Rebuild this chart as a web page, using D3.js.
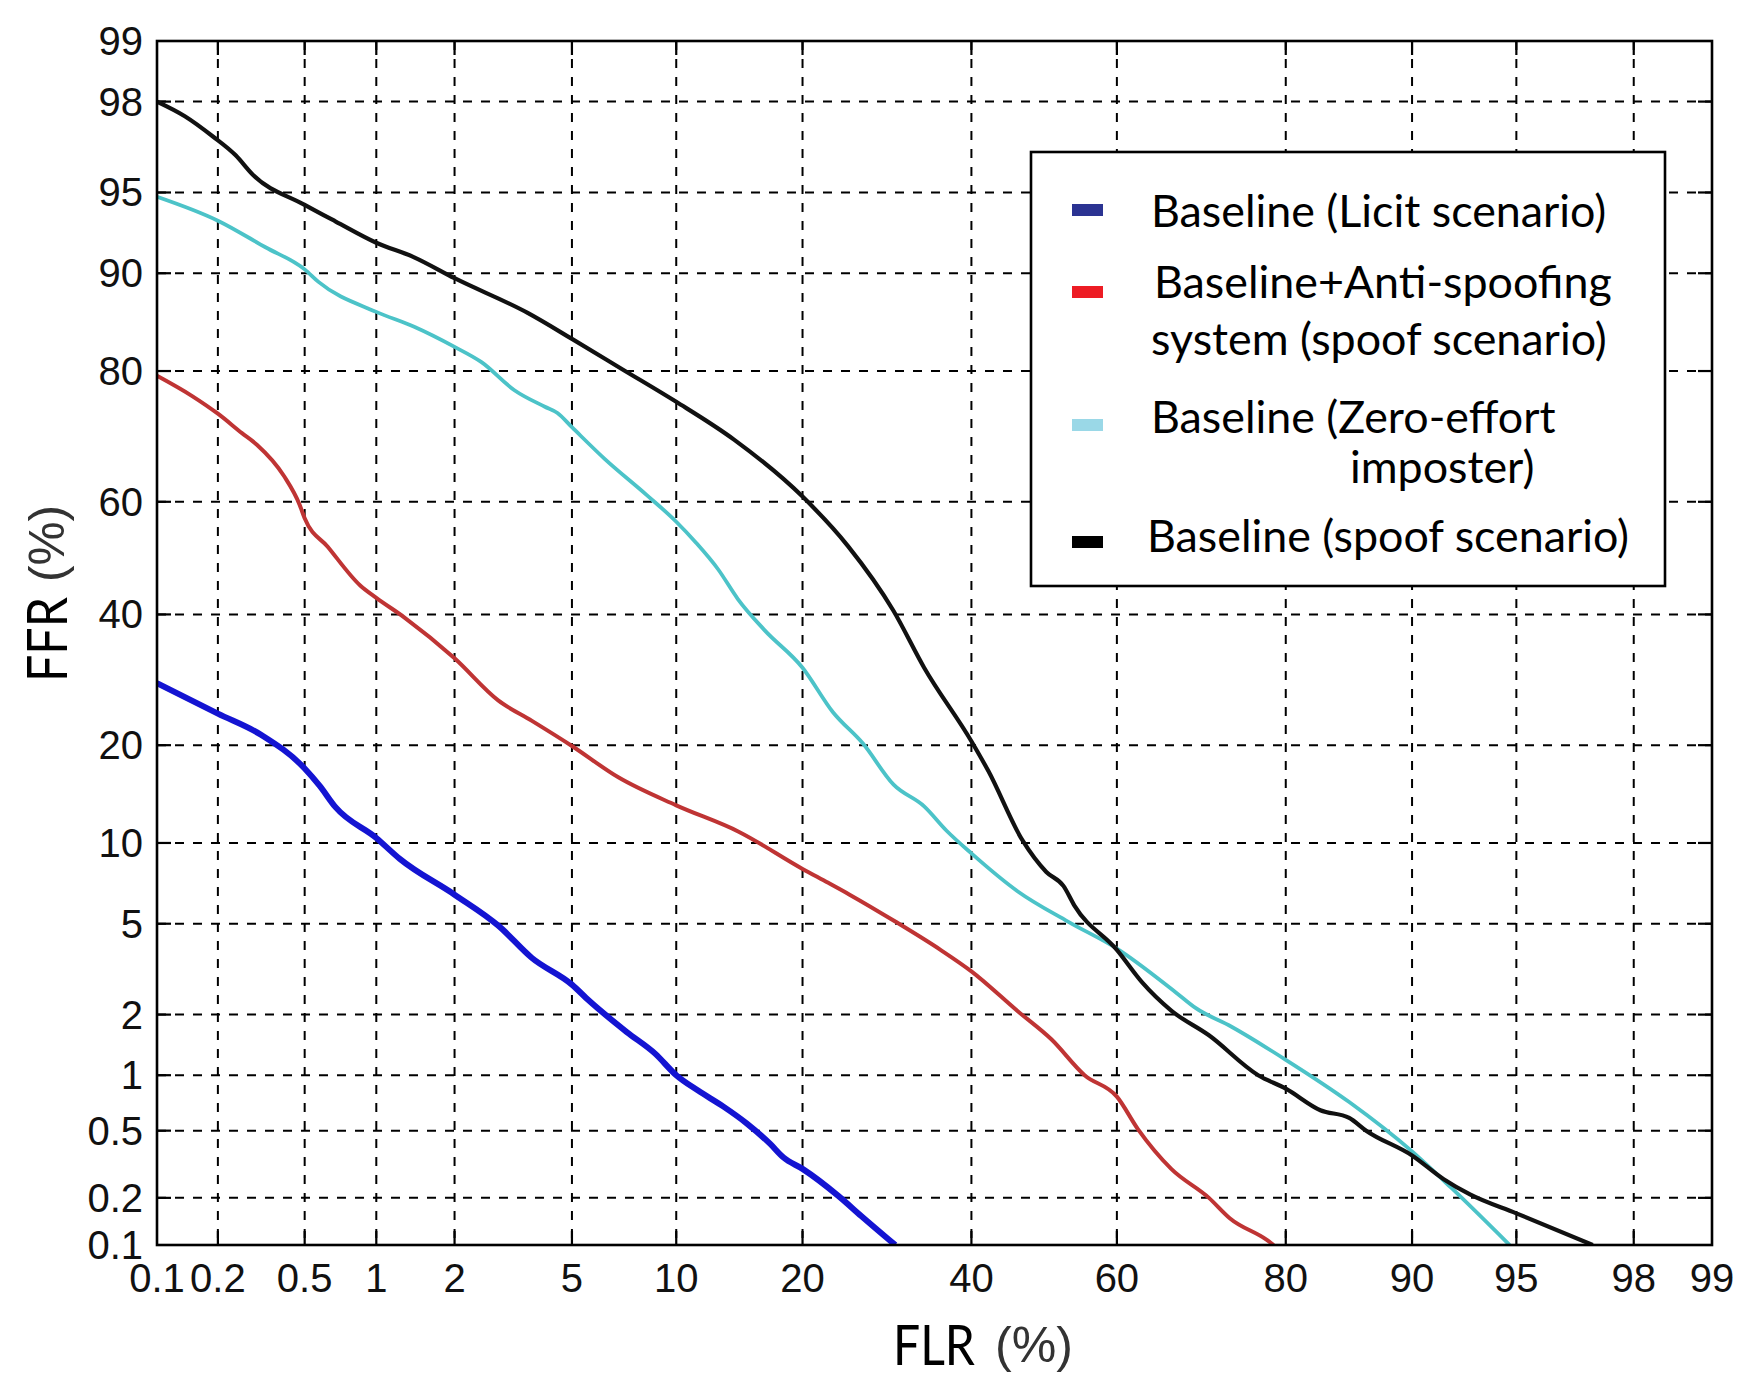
<!DOCTYPE html>
<html>
<head>
<meta charset="utf-8">
<script src="https://cdn.jsdelivr.net/npm/d3@7"></script>
<style>
  body { margin: 0; background: #fff; }
  svg { display: block; }
</style>
</head>
<body>
<svg id="chart" width="1753" height="1385"></svg>
<script>
// tick values, in percent, same for both axes
let flrTicks = [0.1, 0.2, 0.5, 1, 2, 5, 10, 20, 40, 60, 80, 90, 95, 98, 99];
let ffrTicks = [0.1, 0.2, 0.5, 1, 2, 5, 10, 20, 40, 60, 80, 90, 95, 98, 99];

// [FLR %, FFR %]
let licitCurve = [[0.1,28.7],[0.2,24.2],[0.32,21.3],[0.5,17.2],[0.58,15.3],[0.68,13.1],[1,10.4],[1.24,8.8],[2,6.5],
  [2.87,4.9],[3.72,3.6],[5,2.75],[5.65,2.32],[7.3,1.65],[8.77,1.29],[10,1.0],[11.4,0.83],[13.2,0.68],[15,0.55],
  [17,0.42],[18.2,0.35],[20,0.30],[23.7,0.205],[26.2,0.154],[30.2,0.1]];
let antiSpoofCurve = [[0.1,79.4],[0.15,76.7],[0.2,74.2],[0.26,71.3],[0.305,69.5],[0.405,64.4],[0.475,59.5],[0.5,57.1],
  [0.63,52],[0.86,45.1],[1,42.9],[1.29,39.5],[2,32.6],[2.86,26.1],[3.72,23.2],[5,19.9],[6.9,16.2],[10,13.3],[14.4,10.9],
  [20,8.1],[22.6,7.2],[24.9,6.5],[30.2,5.1],[35.9,3.9],[40,3.15],[46.3,2.08],[51,1.52],[55.6,1.0],[60,0.77],[62.8,0.51],
  [67.1,0.30],[71.7,0.2],[74.1,0.149],[78.1,0.108],[78.8,0.1]];
let zeroEffortCurve = [[0.1,94.8],[0.2,93.55],[0.334,91.9],[0.5,90.3],[0.574,89.3],[1,86.6],[1.41,85.1],[2,82.9],[2.5,81.1],
  [3.25,77.5],[4.1,75.2],[4.5,74.3],[5,72.2],[6.3,67.2],[8.3,61.2],[10,56.5],[11.25,52.8],[12.8,48],[14.3,42.7],[16.5,37.3],
  [20,31.1],[23.1,24.4],[26.4,20.2],[30,15.4],[33.8,13.2],[36.7,11],[40,9.2],[46.3,6.7],[53.3,5.1],[60,3.95],[67.6,2.55],
  [70.1,2.15],[74.3,1.75],[80,1.2],[85.6,0.72],[90,0.38],[92.2,0.23],[94.75,0.1]];
let spoofCurve = [[0.1,98.0],[0.138,97.66],[0.19,97.1],[0.243,96.5],[0.29,95.8],[0.5,94.4],[0.68,93.5],[1,92.2],[1.41,91.2],
  [2,89.6],[3.6,86.5],[5,83.8],[7.1,80.2],[10,75.9],[14,70.3],[20,60.9],[24.7,52.2],[30,40.6],[33.8,31.1],[40,20.5],
  [42.3,16.9],[47,10.2],[50.3,7.9],[52.7,7.0],[54.2,5.9],[60,3.9],[63.3,2.83],[67.1,2.09],[71.7,1.59],[77.2,1.0],[80,0.85],
  [83.2,0.65],[85.6,0.59],[86.9,0.5],[90,0.36],[91.8,0.26],[93.1,0.21],[95,0.16],[97.2,0.1]];

let seriesCurves = [licitCurve, antiSpoofCurve, zeroEffortCurve, spoofCurve];
let seriesColors = ['#1414d2', '#bf3434', '#4cc3c8', '#111111'];
let seriesWidths = [6, 4, 3.8, 4.2];

// legend text, one array of lines per entry
let legendLines = [
  ['Baseline (Licit scenario)'],
  ['Baseline+Anti-spoofing', 'system (spoof scenario)'],
  ['Baseline (Zero-effort', 'imposter)'],
  ['Baseline (spoof scenario)']
];
let legendColors = ['#2b3392', '#ed1c24', '#9ad8e7', '#000000'];

// inverse of the normal cdf (Acklam), DET plots are drawn in normal deviates
function probit(p){
  let a = [-3.969683028665376e+01, 2.209460984245205e+02, -2.759285104469687e+02, 1.383577518672690e+02, -3.066479806614716e+01, 2.506628277459239e+00];
  let b = [-5.447609879822406e+01, 1.615858368580409e+02, -1.556989798598866e+02, 6.680131188771972e+01, -1.328068155288572e+01];
  let c = [-7.784894002430293e-03, -3.223964580411365e-01, -2.400758277161838e+00, -2.549732539343734e+00, 4.374664141464968e+00, 2.938163982698783e+00];
  let d = [7.784695709041462e-03, 3.224671290700398e-01, 2.445134137142996e+00, 3.754408661907416e+00];
  let pl = 0.02425, q, r;
  if(p < pl){
    q = Math.sqrt(-2 * Math.log(p));
    return (((((c[0]*q+c[1])*q+c[2])*q+c[3])*q+c[4])*q+c[5]) / ((((d[0]*q+d[1])*q+d[2])*q+d[3])*q+1);
  }
  if(p > 1 - pl){
    q = Math.sqrt(-2 * Math.log(1 - p));
    return -(((((c[0]*q+c[1])*q+c[2])*q+c[3])*q+c[4])*q+c[5]) / ((((d[0]*q+d[1])*q+d[2])*q+d[3])*q+1);
  }
  q = p - 0.5; r = q * q;
  return (((((a[0]*r+a[1])*r+a[2])*r+a[3])*r+a[4])*r+a[5])*q / (((((b[0]*r+b[1])*r+b[2])*r+b[3])*r+b[4])*r+1);
}

let plot_left = 157, plot_right = 1712, plot_top = 41, plot_bottom = 1245;
let tickFont = '"Liberation Sans", Arial, sans-serif';
let titleFont = 'Lato, "Noto Sans", sans-serif';

let xLin = d3.scaleLinear().domain([probit(0.001), probit(0.99)]).range([plot_left, plot_right]);
let yLin = d3.scaleLinear().domain([probit(0.001), probit(0.99)]).range([plot_bottom, plot_top]);
let x = v => xLin(probit(v / 100));
let y = v => yLin(probit(v / 100));

let svg = d3.select('#chart');
svg.append('rect').attr('width', 1753).attr('height', 1385).attr('fill', '#fff');

svg.append('clipPath').attr('id', 'plot_clip')
  .append('rect').attr('x', plot_left).attr('y', plot_top)
  .attr('width', plot_right - plot_left).attr('height', plot_bottom - plot_top);

//----------------------------------------------------------------------------
// grid
let inner_x = flrTicks.slice(1, -1);
let inner_y = ffrTicks.slice(1, -1);
let grid = svg.append('g').attr('class', 'grid')
  .attr('stroke', '#000').attr('stroke-width', 2).attr('stroke-dasharray', '9,9');

grid.selectAll('.vgrid').data(inner_x).enter().append('line').attr('class', 'vgrid')
  .attr('x1', d => x(d)).attr('x2', d => x(d)).attr('y1', plot_top).attr('y2', plot_bottom);
grid.selectAll('.hgrid').data(inner_y).enter().append('line').attr('class', 'hgrid')
  .attr('y1', d => y(d)).attr('y2', d => y(d)).attr('x1', plot_left).attr('x2', plot_right);

// inward tick marks on all four sides
let tick_len = 14;
let ticks = svg.append('g').attr('stroke', '#000').attr('stroke-width', 2.2);
[plot_top, plot_bottom].forEach(edge => {
  ticks.selectAll(null).data(inner_x).enter().append('line')
    .attr('x1', d => x(d)).attr('x2', d => x(d))
    .attr('y1', edge).attr('y2', edge === plot_top ? edge + tick_len : edge - tick_len);
});
[plot_left, plot_right].forEach(edge => {
  ticks.selectAll(null).data(inner_y).enter().append('line')
    .attr('y1', d => y(d)).attr('y2', d => y(d))
    .attr('x1', edge).attr('x2', edge === plot_left ? edge + tick_len : edge - tick_len);
});

//----------------------------------------------------------------------------
// curves
let line = d3.line()
  .x(d => x(d[0]))
  .y(d => y(d[1]))
  .curve(d3.curveMonotoneX);

svg.append('g').attr('clip-path', 'url(#plot_clip)')
  .selectAll('.det').data(seriesCurves).enter().append('path').attr('class', 'det')
  .attr('d', line)
  .attr('fill', 'none')
  .attr('stroke', (d, i) => seriesColors[i])
  .attr('stroke-width', (d, i) => seriesWidths[i])
  .attr('stroke-linejoin', 'round');

// frame
svg.append('rect').attr('x', plot_left).attr('y', plot_top)
  .attr('width', plot_right - plot_left).attr('height', plot_bottom - plot_top)
  .attr('fill', 'none').attr('stroke', '#000').attr('stroke-width', 2.6);

//----------------------------------------------------------------------------
// tick labels
svg.selectAll('.xlabel').data(flrTicks).enter().append('text').attr('class', 'xlabel')
  .attr('x', d => x(d)).attr('y', 1292)
  .attr('text-anchor', 'middle')
  .style('font-family', tickFont).style('font-size', '40px').attr('fill', '#111')
  .text(d => d);

svg.selectAll('.ylabel').data(ffrTicks).enter().append('text').attr('class', 'ylabel')
  .attr('x', 143).attr('y', d => y(d) + 14)
  .attr('text-anchor', 'end')
  .style('font-family', tickFont).style('font-size', '40px').attr('fill', '#111')
  .text(d => d);

// axis titles
svg.append('text').attr('x', 893).attr('y', 1365)
  .style('font-family', titleFont).style('font-size', '56px').attr('fill', '#000')
  .attr('textLength', 82).attr('lengthAdjust', 'spacingAndGlyphs')
  .text('FLR');
svg.append('text').attr('x', 995).attr('y', 1362)
  .style('font-family', tickFont).style('font-size', '50px').attr('fill', '#333')
  .attr('textLength', 78).attr('lengthAdjust', 'spacingAndGlyphs')
  .text('(%)');

let ffr_title = svg.append('g').attr('transform', 'translate(67,682) rotate(-90)');
ffr_title.append('text').attr('x', 0).attr('y', 0)
  .style('font-family', titleFont).style('font-size', '56px').attr('fill', '#000')
  .attr('textLength', 85).attr('lengthAdjust', 'spacingAndGlyphs')
  .text('FFR');
ffr_title.append('text').attr('x', 100).attr('y', -3)
  .style('font-family', tickFont).style('font-size', '50px').attr('fill', '#333')
  .attr('textLength', 77).attr('lengthAdjust', 'spacingAndGlyphs')
  .text('(%)');

//----------------------------------------------------------------------------
// legend
let legend = svg.append('g').attr('class', 'legend');
legend.append('rect').attr('x', 1031).attr('y', 152).attr('width', 634).attr('height', 434)
  .attr('fill', '#fff').attr('stroke', '#000').attr('stroke-width', 2.6);

let swatch_y = [210, 292, 425, 542];
let line_y = [[227], [298, 355], [433, 483], [552]];
let line_x = [[1151], [1154, 1151], [1151, 1350], [1147]];

legend.selectAll('.swatch').data(legendColors).enter().append('rect').attr('class', 'swatch')
  .attr('x', 1072).attr('y', (d, i) => swatch_y[i] - 6)
  .attr('width', 31).attr('height', 12)
  .attr('fill', d => d);

legendLines.forEach((lines, i) => {
  legend.selectAll(null).data(lines).enter().append('text')
    .attr('x', (d, j) => line_x[i][j]).attr('y', (d, j) => line_y[i][j])
    .style('font-family', titleFont).style('font-size', '44.8px').attr('fill', '#000')
    .text(d => d);
});
</script>
</body>
</html>
